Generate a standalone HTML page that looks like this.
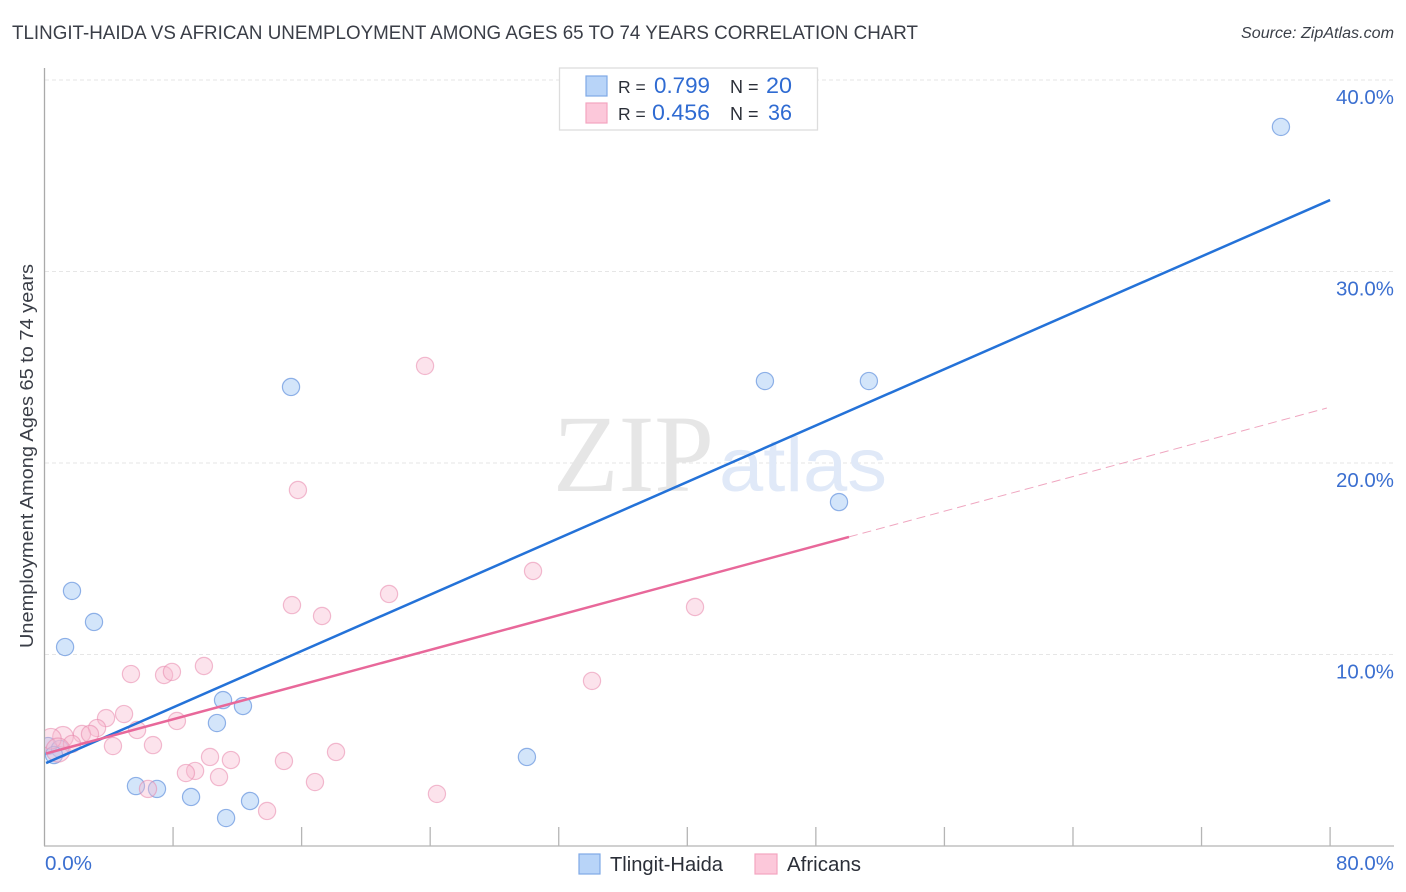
<!DOCTYPE html>
<html lang="en">
<head>
<meta charset="utf-8">
<title>Tlingit-Haida vs African Unemployment Correlation Chart</title>
<style>
html,body{margin:0;padding:0;background:#fff;}
svg{display:block;font-family:"Liberation Sans",sans-serif;}
</style>
</head>
<body>
<svg id="chart" width="1406" height="892" viewBox="0 0 1406 892" xmlns="http://www.w3.org/2000/svg">
  <defs>
    <clipPath id="plot-clip"><rect x="45" y="60" width="1349" height="786"/></clipPath>
  </defs>
  <text x="12" y="39" font-size="19" fill="#3a3e47" textLength="906" lengthAdjust="spacingAndGlyphs">TLINGIT-HAIDA VS AFRICAN UNEMPLOYMENT AMONG AGES 65 TO 74 YEARS CORRELATION CHART</text>
  <text x="1394" y="38" font-size="15.5" font-style="italic" fill="#3a3f48" text-anchor="end" textLength="153" lengthAdjust="spacingAndGlyphs">Source: ZipAtlas.com</text>
  <g id="grid"></g>
  <g>
    <text x="553" y="491" font-family="'Liberation Serif',serif" font-size="110" fill="#e6e6e6" textLength="161" lengthAdjust="spacingAndGlyphs">ZIP</text>
    <text x="719" y="491" font-size="76" fill="#e0e9f8" textLength="168" lengthAdjust="spacingAndGlyphs">atlas</text>
  </g>
  <line x1="44.5" y1="68" x2="44.5" y2="846" stroke="#aaaaaa" stroke-width="1.3"/>
  <line x1="44" y1="846" x2="1394" y2="846" stroke="#b5b5b5" stroke-width="1.3"/>
  <g id="xticks"></g>
  <g id="ylabels"></g>
  <g id="points-blue" clip-path="url(#plot-clip)"></g>
  <g id="points-pink" clip-path="url(#plot-clip)"></g>
  <g id="trends"></g>
  <text x="45" y="870" font-size="20" fill="#3b6fd0" textLength="47" lengthAdjust="spacingAndGlyphs">0.0%</text>
  <text x="1394" y="870" font-size="20" fill="#3b6fd0" text-anchor="end" textLength="58" lengthAdjust="spacingAndGlyphs">80.0%</text>
  <text transform="translate(33,456) rotate(-90)" font-size="18" fill="#3a3e47" text-anchor="middle" textLength="384" lengthAdjust="spacingAndGlyphs">Unemployment Among Ages 65 to 74 years</text>

  <g>
    <rect x="559.5" y="68" width="258" height="62" fill="#ffffff" stroke="#dddddd" stroke-width="1.3"/>
    <rect x="586" y="76" width="21" height="20" fill="#b8d4f8" stroke="#7fa9e6" stroke-width="1.2"/>
    <rect x="586" y="103" width="21" height="20" fill="#fcc8da" stroke="#f4a5c0" stroke-width="1.2"/>
    <text x="618" y="93" font-size="17.5" fill="#2b2f38">R =</text>
    <text x="710" y="93" font-size="22" fill="#2f6bd2" text-anchor="end" textLength="56" lengthAdjust="spacingAndGlyphs">0.799</text>
    <text x="730" y="93" font-size="18" fill="#2b2f38">N =</text>
    <text x="792" y="93" font-size="22" fill="#2f6bd2" text-anchor="end" textLength="26" lengthAdjust="spacingAndGlyphs">20</text>
    <text x="618" y="120" font-size="17.5" fill="#2b2f38">R =</text>
    <text x="710" y="120" font-size="22" fill="#2f6bd2" text-anchor="end" textLength="58" lengthAdjust="spacingAndGlyphs">0.456</text>
    <text x="730" y="120" font-size="18" fill="#2b2f38">N =</text>
    <text x="792" y="120" font-size="22" fill="#2f6bd2" text-anchor="end" textLength="24" lengthAdjust="spacingAndGlyphs">36</text>
  </g>

  <g>
    <rect x="579" y="854" width="21" height="20" fill="#b8d4f8" stroke="#7fa9e6" stroke-width="1.2"/>
    <text x="610" y="871" font-size="20" fill="#2b2f38" textLength="113" lengthAdjust="spacingAndGlyphs">Tlingit-Haida</text>
    <rect x="755" y="854" width="22" height="20" fill="#fcc8da" stroke="#f4a5c0" stroke-width="1.2"/>
    <text x="787" y="871" font-size="20" fill="#2b2f38" textLength="74" lengthAdjust="spacingAndGlyphs">Africans</text>
  </g>
</svg>
<script>
const xTickValues = [8, 16, 24, 32, 40, 48, 56, 64, 72, 80];
const yTickValues = [10, 20, 30, 40];
const yTickLabels = ["10.0%", "20.0%", "30.0%", "40.0%"];

const tlingitX = [76.94, 15.34, 44.83, 51.30, 49.44, 1.71, 3.08, 1.28, 11.11, 12.35, 10.73, 30.02, 5.69, 7.0, 9.12, 12.79, 11.3, 0.22, 0.96, 0.59];
const tlingitY = [37.55, 23.97, 24.28, 24.28, 17.96, 13.32, 11.70, 10.39, 7.62, 7.31, 6.42, 4.65, 3.13, 2.98, 2.56, 2.35, 1.46, 5.22, 5.07, 4.75];

const africansX = [23.68, 15.77, 30.4, 21.44, 15.4, 17.27, 40.48, 34.07, 5.38, 7.44, 7.93, 9.92, 8.24, 4.95, 3.83, 3.27, 5.76, 4.26, 6.75, 2.33, 2.83, 1.15, 1.71, 0.40, 0.84, 18.14, 14.9, 11.6, 10.3, 9.37, 8.8, 10.86, 16.83, 6.44, 24.42, 13.85];
const africansY = [25.07, 18.59, 14.36, 13.16, 12.58, 12.01, 12.48, 8.62, 8.98, 8.93, 9.09, 9.40, 6.53, 6.89, 6.68, 6.16, 6.06, 5.22, 5.27, 5.85, 5.85, 5.70, 5.33, 5.60, 5.01, 4.91, 4.44, 4.49, 4.65, 3.92, 3.81, 3.6, 3.34, 2.98, 2.72, 1.83];
const africansWeight = [1, 1, 1, 1, 1, 1, 1, 1, 1, 1, 1, 1, 1, 1, 1, 1, 1, 1, 1, 1, 1, 1.2, 1, 1.2, 1.4, 1, 1, 1, 1, 1, 1, 1, 1, 1, 1, 1];

const tlingitTrendX = [0.1, 80];
const tlingitTrendY = [4.33, 33.73];
const africansTrendX = [0.1, 50.06];
const africansTrendY = [4.83, 16.14];
const africansExtendX = [50.06, 79.8];
const africansExtendY = [16.14, 22.87];

const NS = "http://www.w3.org/2000/svg";
const px = function (v) { return 44.5 + v * 16.07; };
const py = function (v) { return 846 - v * 19.15; };

function make(tag, parent, attrs) {
  const el = document.createElementNS(NS, tag);
  Object.keys(attrs).forEach(function (k) { el.setAttribute(k, attrs[k]); });
  parent.appendChild(el);
  return el;
}

const gridGroup = document.getElementById("grid");
const labelGroup = document.getElementById("ylabels");
yTickValues.forEach(function (v, i) {
  const line = make("line", gridGroup, { x1: 45, x2: 1393, y1: py(v), y2: py(v), stroke: "#e6e6e6", "stroke-width": 1, "stroke-dasharray": "4 3" });
  
  
  const label = make("text", labelGroup, { x: 1394, y: py(v) + 24, "font-size": 20, fill: "#3b6fd0", "text-anchor": "end", textLength: 58, lengthAdjust: "spacingAndGlyphs" });
  
  
  label.textContent = yTickLabels[i];
});

const tickGroup = document.getElementById("xticks");
xTickValues.forEach(function (v) {
  const tick = make("line", tickGroup, { x1: px(v), x2: px(v), y1: 827, y2: 846, stroke: "#b5b5b5", "stroke-width": 1.3 });
  
  
});

const blueGroup = document.getElementById("points-blue");
tlingitX.forEach(function (v, i) {
  const dot = make("circle", blueGroup, { cx: px(v), cy: py(tlingitY[i]), r: 8.6, fill: "rgba(168,203,245,0.5)", stroke: "rgba(90,140,220,0.65)", "stroke-width": 1.2 });
  
  
});

const pinkGroup = document.getElementById("points-pink");
africansX.forEach(function (v, i) {
  const dot = make("circle", pinkGroup, { cx: px(v), cy: py(africansY[i]), r: 8.6 * africansWeight[i], fill: "rgba(248,185,208,0.4)", stroke: "rgba(232,135,172,0.55)", "stroke-width": 1.2 });
  
  
});

const trendGroup = document.getElementById("trends");
const extendLine = make("line", trendGroup, { x1: px(africansExtendX[0]), y1: py(africansExtendY[0]), x2: px(africansExtendX[1]), y2: py(africansExtendY[1]), stroke: "#e8789f", "stroke-width": 1, "stroke-dasharray": "9 5", opacity: 0.65 });


const blueLine = make("line", trendGroup, { x1: px(tlingitTrendX[0]), y1: py(tlingitTrendY[0]), x2: px(tlingitTrendX[1]), y2: py(tlingitTrendY[1]), stroke: "#2472d8", "stroke-width": 2.5 });


const pinkLine = make("line", trendGroup, { x1: px(africansTrendX[0]), y1: py(africansTrendY[0]), x2: px(africansTrendX[1]), y2: py(africansTrendY[1]), stroke: "#e8689a", "stroke-width": 2.5 });


</script>
</body>
</html>
